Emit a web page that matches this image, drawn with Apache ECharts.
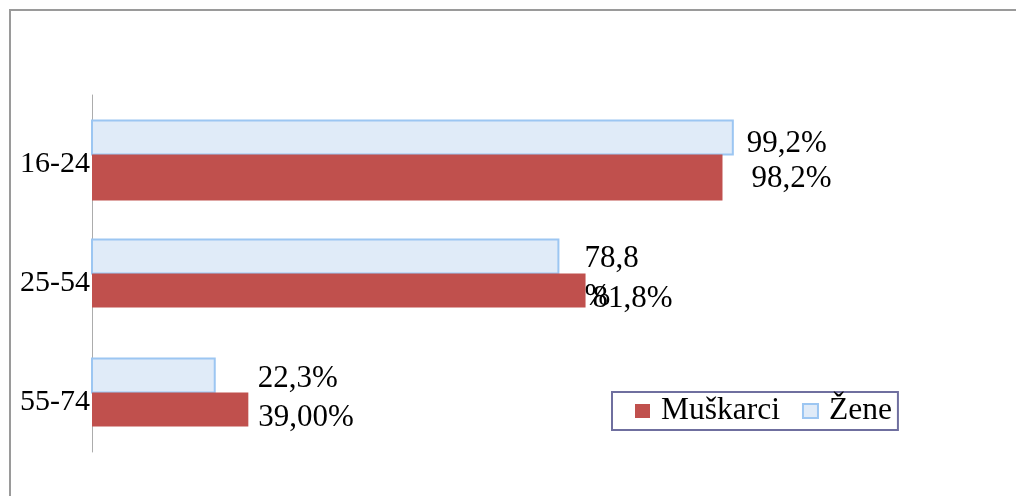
<!DOCTYPE html>
<html>
<head>
<meta charset="utf-8">
<script src="https://cdn.jsdelivr.net/npm/echarts@6/dist/echarts.min.js"></script>
<style>
html,body{margin:0;padding:0;background:#fff;}
#c{width:1016px;height:496px;}
</style>
</head>
<body>
<div id="c"></div>
<script>
// Data
var categories = ['16-24', '25-54', '55-74'];
var seriesNames = ['Muškarci', 'Žene'];
// bar lengths as drawn in the picture (percent scale)
var muskarciValues = [97.6, 76.4, 24.2];
var zeneValues = [99.2, 72.2, 19.0];
// label texts as printed in the picture
var muskarciLabels = ['98,2%', '81,8%', '39,00%'];
var zeneLabels = ['99,2%', '78,8\n%', '22,3%'];

// styling (not data): bar thickness and label placement
var BAR = 34;
var muskarciThickness = [46, 34, 34];
var zeneThickness = [34, 34, 34];
var muskarciLabelOffsets = [[29, 7], [7, 8.5], [10, 8.5]];
var zeneLabelOffsets = [[14, 6.5], [26, 21.5], [43, 3.2]];

var FONT = '"Liberation Serif", "Times New Roman", serif';

function toData(values) {
  return values.map(function (v, i) { return [v, i]; });
}

function makeRender(isTop, thickness, labels, offsets, rectStyle) {
  return function (params, api) {
    var i = params.dataIndex;
    var v = api.value(0);
    var c = api.value(1);
    var p0 = api.coord([0, c]);
    var p1 = api.coord([v, c]);
    var h = thickness[i];
    var y = isTop ? p0[1] - h : p0[1];
    var labelCenter = isTop ? p0[1] - BAR / 2 : p0[1] + BAR / 2;
    return {
      type: 'group',
      children: [
        {
          type: 'rect',
          shape: { x: p0[0], y: y, width: p1[0] - p0[0], height: h },
          style: rectStyle
        },
        {
          type: 'text',
          style: {
            text: labels[i],
            x: p1[0] + offsets[i][0],
            y: labelCenter + offsets[i][1],
            fill: '#000',
            fontFamily: FONT,
            fontSize: 31,
            lineHeight: 38,
            align: 'left',
            verticalAlign: 'middle'
          }
        }
      ]
    };
  };
}

var chart = echarts.init(document.getElementById('c'), null, { renderer: 'canvas' });
chart.setOption({
  animation: false,
  backgroundColor: '#ffffff',
  graphic: [{
    type: 'rect',
    shape: { x: 10, y: 10, width: 1010, height: 490 },
    style: { fill: 'none', stroke: '#9a9a9a', lineWidth: 2 },
    silent: true
  }],
  grid: { left: 92, top: 95, width: 646, height: 357, containLabel: false },
  xAxis: {
    type: 'value', min: 0, max: 100,
    show: false
  },
  yAxis: {
    type: 'category',
    data: categories,
    inverse: true,
    axisLine: { show: true, lineStyle: { color: '#acacac', width: 1 } },
    axisTick: { show: false },
    axisLabel: {
      margin: 2,
      color: '#000',
      fontFamily: FONT,
      fontSize: 30,
      verticalAlign: 'top',
      lineHeight: 19
    }
  },
  legend: {
    data: ['Muškarci', 'Žene'],
    left: 612,
    top: 392,
    orient: 'horizontal',
    borderColor: '#6f6f9f',
    borderWidth: 2,
    padding: [3, 6, 3, 23],
    itemWidth: 15,
    itemHeight: 14,
    itemGap: 22,
    icon: 'rect',
    textStyle: {
      fontFamily: FONT,
      fontSize: 31.5,
      color: '#000',
      padding: [0, 0, 0, 6]
    }
  },
  series: [
    {
      name: seriesNames[1],
      type: 'custom',
      encode: { x: 0, y: 1 },
      data: toData(zeneValues),
      itemStyle: { color: '#e0ebf8', borderColor: '#9cc6f2', borderWidth: 2 },
      renderItem: makeRender(true, zeneThickness, zeneLabels, zeneLabelOffsets,
        { fill: '#e0ebf8', stroke: '#9cc6f2', lineWidth: 2 })
    },
    {
      name: seriesNames[0],
      type: 'custom',
      encode: { x: 0, y: 1 },
      data: toData(muskarciValues),
      itemStyle: { color: '#c0504d' },
      renderItem: makeRender(false, muskarciThickness, muskarciLabels, muskarciLabelOffsets,
        { fill: '#c0504d' })
    }
  ]
});
</script>
</body>
</html>
